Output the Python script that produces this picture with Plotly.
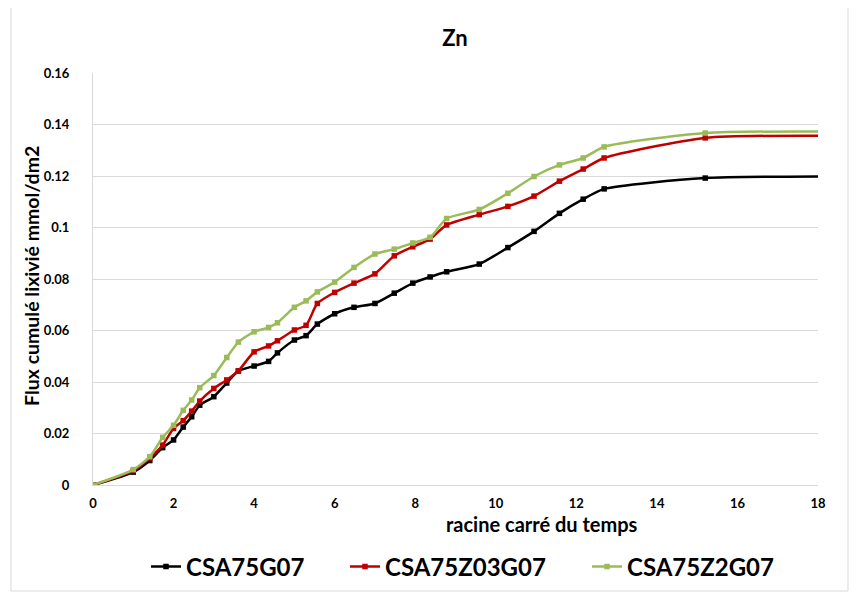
import plotly.graph_objects as go

# ---- data ----
x_vals = [0, 1, 1.41, 1.73, 2, 2.24, 2.45, 2.65, 3, 3.32, 3.61, 4, 4.36, 4.58, 5, 5.29, 5.57,
          6, 6.48, 7, 7.48, 7.94, 8.37, 8.78, 9.59, 10.3, 10.95, 11.58, 12.17, 12.69, 15.2, 20.8]

csa75g07 = [0, 0.005, 0.0095, 0.0145, 0.0175, 0.0225, 0.0265, 0.031, 0.0343, 0.0396, 0.0443,
            0.0462, 0.048, 0.0513, 0.0563, 0.058, 0.0625, 0.0665, 0.069, 0.0705, 0.0745, 0.0784,
            0.0808, 0.0828, 0.0858, 0.0922, 0.0985, 0.1055, 0.111, 0.115, 0.1192, 0.1198]

csa75z03g07 = [0, 0.0055, 0.0105, 0.0155, 0.022, 0.025, 0.0287, 0.0326, 0.0375, 0.0408, 0.0443,
               0.0517, 0.054, 0.056, 0.0602, 0.062, 0.0705, 0.0748, 0.0784, 0.082, 0.089, 0.0925,
               0.0955, 0.101, 0.105, 0.1082, 0.1122, 0.118, 0.1227, 0.127, 0.1348, 0.1353]

csa75z2g07 = [0, 0.006, 0.011, 0.0185, 0.0232, 0.029, 0.033, 0.0378, 0.0425, 0.0495, 0.0555,
              0.0595, 0.0612, 0.063, 0.069, 0.0715, 0.075, 0.0788, 0.0845, 0.0897, 0.0916, 0.094,
              0.0962, 0.1035, 0.107, 0.1133, 0.1198, 0.1243, 0.127, 0.1313, 0.1367, 0.137]

series_names = ["CSA75G07", "CSA75Z03G07", "CSA75Z2G07"]
series_colors = ["#000000", "#c00000", "#9bbb59"]

x_ticks = [0, 2, 4, 6, 8, 10, 12, 14, 16, 18]
y_ticks = [0, 0.02, 0.04, 0.06, 0.08, 0.1, 0.12, 0.14, 0.16]
y_ticktext = ["0", "0.02", "0.04", "0.06", "0.08", "0.1", "0.12", "0.14", "0.16"]

FONT = "Lato, 'Open Sans', sans-serif"

# figure is drawn inside an 8px page margin -> 849 x 584 figure
W, H = 849, 584
ML, MR, MT, MB = 85, 39, 65, 107
PW, PH = W - ML - MR, H - MT - MB

def px_x(sx):  # screen x -> paper x
    return (sx - 8 - ML) / PW

def px_y(sy):  # screen y -> paper y
    return (H - MB - (sy - 8)) / PH

legend_ids = ["legend", "legend2", "legend3"]
legend_text_x = [186, 385, 627]

fig = go.Figure()
for name, ys, col, lid in zip(series_names, [csa75g07, csa75z03g07, csa75z2g07], series_colors, legend_ids):
    fig.add_trace(go.Scatter(
        x=x_vals, y=ys, name=name, mode="lines+markers", legend=lid,
        line=dict(color=col, width=2.5, shape="spline", smoothing=0.6),
        marker=dict(symbol="square", size=5.5, color=col),
    ))

legend_common = dict(orientation="h", yanchor="middle", xanchor="left", y=px_y(567),
                     font=dict(size=24, family=FONT, weight="bold", color="#000000"),
                     itemwidth=30, bgcolor="rgba(0,0,0,0)", borderwidth=0)

layout_legends = {}
for lid, tx in zip(legend_ids, legend_text_x):
    layout_legends[lid] = dict(legend_common, x=px_x(tx - 40))

fig.update_layout(
    width=W, height=H,
    margin=dict(l=ML, r=MR, t=MT, b=MB, autoexpand=False),
    paper_bgcolor="white", plot_bgcolor="white",
    font=dict(family=FONT, color="#000000"),
    title=dict(text="<b>Zn</b>", x=(455 - 8) / W, xanchor="center", y=1 - (38 - 8) / H,
               yanchor="middle", font=dict(size=22, family=FONT)),
    showlegend=True,
    xaxis=dict(range=[0, 18], tickvals=x_ticks, showgrid=False, zeroline=False, automargin=False,
               showline=True, linecolor="#d9d9d9", linewidth=1, ticks="", ticklabelstandoff=6,
               tickfont=dict(size=13, family=FONT, weight="bold")),
    yaxis=dict(range=[0, 0.16], tickvals=y_ticks, ticktext=y_ticktext, showgrid=True, automargin=False,
               gridcolor="#d9d9d9", gridwidth=1, zeroline=False, showline=True,
               linecolor="#d9d9d9", linewidth=1, ticks="", ticklabelstandoff=20,
               tickfont=dict(size=13, family=FONT, weight="bold")),
    **layout_legends,
)

# axis titles placed like the reference
fig.add_annotation(text="<b>racine carré du temps</b>", xref="paper", yref="paper",
                   x=px_x(542), y=px_y(524), showarrow=False,
                   font=dict(size=20, family=FONT), xanchor="center", yanchor="middle")
fig.add_annotation(text="<b>Flux cumulé lixivié mmol/dm2</b>", xref="paper", yref="paper",
                   x=px_x(31), y=px_y(276), showarrow=False, textangle=-90,
                   font=dict(size=19.5, family=FONT), xanchor="center", yanchor="middle")

# chart border (top edge lies outside the visible page, as in the cropped reference)
fig.add_shape(type="rect", xref="paper", yref="paper",
              x0=px_x(11), x1=px_x(848), y0=px_y(591), y1=px_y(0),
              line=dict(color="#d9d9d9", width=1), fillcolor="rgba(0,0,0,0)", layer="below")

fig.write_html("out.html")
